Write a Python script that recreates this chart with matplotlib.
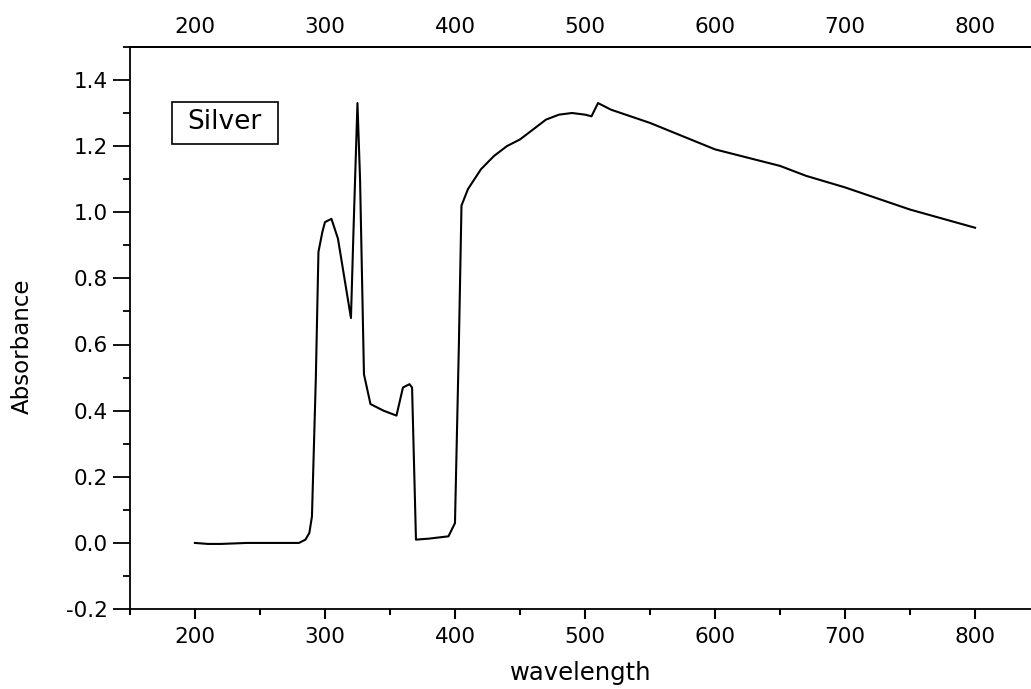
import matplotlib.pyplot as plt
from matplotlib.patches import Rectangle
from matplotlib.ticker import MultipleLocator

plt.rcParams['font.family'] = ['DejaVu Sans']

# UV-vis spectrum of silver
wavelength = [200, 210, 220, 240, 260, 280, 285, 288, 290, 293, 295, 298,
              300, 305, 310, 315, 320, 322, 325, 327, 330, 335, 345, 355,
              360, 365, 367, 370, 380, 395, 400, 403, 405, 410, 420, 430,
              440, 450, 460, 470, 480, 490, 500, 505, 510, 520, 550, 600,
              650, 670, 700, 750, 800]
absorbance = [0.0, -0.003, -0.003, 0.0, 0.0, 0.0, 0.01, 0.03, 0.08, 0.5, 0.88, 0.94,
              0.97, 0.98, 0.92, 0.80, 0.68, 0.95, 1.33, 1.10, 0.51, 0.42, 0.40, 0.385,
              0.47, 0.48, 0.47, 0.01, 0.013, 0.02, 0.06, 0.6, 1.02, 1.07, 1.13, 1.17,
              1.20, 1.22, 1.25, 1.28, 1.295, 1.30, 1.295, 1.29, 1.33, 1.31, 1.27, 1.19,
              1.14, 1.11, 1.075, 1.008, 0.953]
top_ticks = [200, 300, 400, 500, 600, 700, 800]

fig = plt.figure(figsize=(10.31, 6.89), dpi=100)
ax = fig.add_axes([0.126, 0.116, 0.874, 0.816])

ax.plot(wavelength, absorbance, color='black', linewidth=1.5)

ax.set_xlim(150, 843)
ax.set_ylim(-0.2, 1.5)
ax.xaxis.set_major_locator(MultipleLocator(100))
ax.xaxis.set_minor_locator(MultipleLocator(50))
ax.yaxis.set_major_locator(MultipleLocator(0.2))
ax.yaxis.set_minor_locator(MultipleLocator(0.1))
ax.yaxis.set_major_formatter(plt.FuncFormatter(lambda v, p: f'{v:.1f}'))

ax.spines['right'].set_visible(False)
for s in ['left', 'bottom', 'top']:
    ax.spines[s].set_linewidth(1.3)

ax.tick_params(axis='x', which='major', direction='out', length=7, width=1.5,
               labelsize=15.5, top=False, pad=6)
ax.tick_params(axis='x', which='minor', direction='out', length=4, width=1.5, top=False)
ax.tick_params(axis='y', which='major', direction='out', length=12, width=1.3,
               labelsize=15.5, pad=4)
ax.tick_params(axis='y', which='minor', direction='out', length=5, width=1.3)

# top axis: labels only, no tick marks
top = ax.secondary_xaxis('top')
top.set_xticks(top_ticks)
top.tick_params(axis='x', which='both', length=0, labelsize=15.5, pad=7)
top.spines['top'].set_linewidth(1.3)

ax.set_xlabel('wavelength', fontsize=17.5)
ax.xaxis.set_label_coords(0.5, -0.093)
ax.set_ylabel('Absorbance', fontsize=16.5)
ax.yaxis.set_label_coords(-0.107, 0.468)

# legend-style label box
ax.add_patch(Rectangle((0.0466, 0.827), 0.1177, 0.075, transform=ax.transAxes,
                       facecolor='white', edgecolor='black', linewidth=1.2))
ax.text(0.105, 0.866, 'Silver', transform=ax.transAxes, fontsize=19,
        ha='center', va='center')

fig.savefig('out.png', dpi=100)
